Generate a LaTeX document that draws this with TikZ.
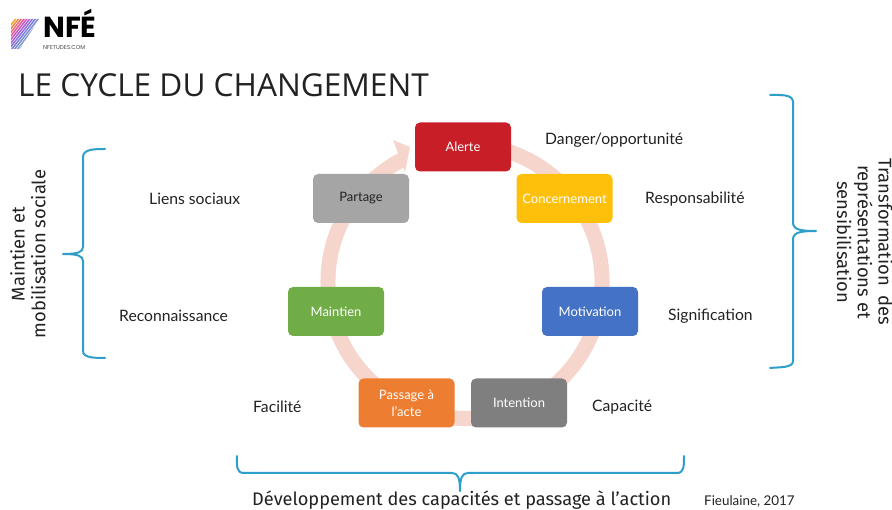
\documentclass[tikz,border=0pt]{standalone}
\usepackage{fontspec}
\setmainfont{Lato}
\newfontfamily\titlefont{Open Sans}
\newfontfamily\dinfont{Fira Sans}
\newfontfamily\logofont{Poppins}
\usetikzlibrary{calc}
\definecolor{ringc}{HTML}{F6D6CC}
\definecolor{bracec}{HTML}{2E9FCB}
\definecolor{cRed}{HTML}{C81E28}
\definecolor{cYel}{HTML}{FFC00C}
\definecolor{cGre}{HTML}{A5A5A5}
\definecolor{cGrn}{HTML}{70AD47}
\definecolor{cBlu}{HTML}{4472C4}
\definecolor{cOra}{HTML}{ED7D31}
\definecolor{cDgr}{HTML}{7F7F7F}
\definecolor{txt}{HTML}{222222}
\tikzset{
  x=1pt,y=-1pt,
  stagebox/.style={draw=none,rounded corners=5pt,minimum width=96pt,minimum height=49pt,inner sep=0pt,align=center,text=white,font=\fontsize{13}{17}\selectfont},
  lab/.style={text=txt,inner sep=0pt,font=\fontsize{15.7}{18}\selectfont},
  sidetxt/.style={text=txt,inner sep=0pt,align=center,font=\dinfont\fontsize{18.4}{20.7}\selectfont},
  bracel/.style={draw=bracec,line width=2pt,line cap=round,line join=round}
}
\begin{document}
\begin{tikzpicture}
\useasboundingbox (0,0) rectangle (892,510);
\fill[white] (0,0) rectangle (892,510);
% logo
\begin{scope}
\clip (11,19) -- (39,19) -- (20,49) -- (11,49) -- cycle;
\foreach \i/\c in {0/F5A623,1/F08A4A,2/EE6C74,3/E0589C,4/C858C0,5/A860D4,6/8C70DC,7/7C80DC,8/7C90D8,9/86A0D0,10/90ACC8,11/98B4C4,12/A0BCC0,13/A8C4C0,14/B0C8C0,15/B8CCC4,16/B8CCC4,17/C0D0C8,18/C0D0C8}{
  \definecolor{tmpc}{HTML}{\c}
  \draw[tmpc,line width=1.5pt] ($(-10,52)+(2.8*\i,0)$) -- ++(28,-36);
}
\end{scope}
\node[inner sep=0pt,anchor=south west,align=left,text=black] (logo) at (43,50) {{\logofont\bfseries\fontsize{29}{29}\selectfont NFÉ}\\{\logofont\fontsize{5.7}{10}\selectfont\color{black!70}NFETUDES.COM}};
% title
\node[inner sep=0pt,anchor=base west,text=txt,font=\titlefont\fontsize{31.6}{36}\selectfont] (title) at (18,97) {LE CYCLE DU CHANGEMENT};
% ring with arrowhead
\coordinate (rc) at (465,281.5);
\draw[ringc,line width=15pt] ($(rc)+(80:137 and -137)$) arc[start angle=-80,end angle=243,radius=137];
\coordinate (headA) at (393,140);
\coordinate (headB) at (410,147);
\coordinate (headC) at (405,172);
\fill[ringc] (headA) -- (headB) -- (headC) -- cycle;
% stages
\node[stagebox,fill=cRed] (alerte) at (463,147) {Alerte};
\node[stagebox,fill=cGre,text=txt] (partage) at (361,198.5) {Partage};
\node[stagebox,fill=cYel] (conc) at (564.5,198.5) {Concernement};
\node[stagebox,fill=cGrn] (maintien) at (336,311.5) {Maintien};
\node[stagebox,fill=cBlu] (motiv) at (590,311.5) {Motivation};
\node[stagebox,fill=cOra] (passage) at (406.5,403) {Passage à\\l’acte};
\node[stagebox,fill=cDgr] (intent) at (519,403) {Intention};
% labels
\node[lab,anchor=west] (danger) at (545,140) {Danger/opportunité};
\node[lab,anchor=west] (resp) at (645,199) {Responsabilité};
\node[lab,anchor=west] (signif) at (668,316) {Signification};
\node[lab,anchor=west] (capa) at (592,407) {Capacité};
\node[lab,anchor=west] (facil) at (253,407) {Facilité};
\node[lab,anchor=west] (reco) at (119,316) {Reconnaissance};
\node[lab,anchor=west] (liens) at (149,199) {Liens sociaux};
% side texts
\node[sidetxt,rotate=90] (left) at (28,254) {Maintien et\\mobilisation sociale};
\node[sidetxt,rotate=-90] (right) at (865,242) {Transformation\ \ des\\représentations et\\sensibilisation};
\node[inner sep=0pt,anchor=base west,text=txt,font=\dinfont\fontsize{18.2}{20}\selectfont] (bottom) at (252,505) {Développement des capacités et passage à l’action};
\node[inner sep=0pt,anchor=base west,text=txt,font=\fontsize{13.4}{14}\selectfont] (source) at (704,506) {Fieulaine, 2017};
% braces
\coordinate (rbT) at (770,95);
\coordinate (rbM) at (816,231);
\coordinate (rbB) at (770,368);
\draw[bracel] (rbT) .. controls (780,95) and (793,94) .. (793,102) -- (793,222) .. controls (793,229) and (798,231) .. (rbM) .. controls (798,231) and (793,233) .. (793,240) -- (793,361) .. controls (793,368) and (780,367) .. (rbB);
\coordinate (lbT) at (105,149);
\coordinate (lbM) at (63,254);
\coordinate (lbB) at (105,358);
\draw[bracel] (lbT) .. controls (95,149) and (83,149) .. (83,157) -- (83,247) .. controls (83,252) and (78,254) .. (lbM) .. controls (78,254) and (83,256) .. (83,261) -- (83,351) .. controls (83,358) and (95,358) .. (lbB);
\coordinate (bbL) at (237,456);
\coordinate (bbM) at (460,491);
\coordinate (bbR) at (684,456);
\draw[bracel] (bbL) .. controls (237,466) and (236,473) .. (244,473) -- (452,473) .. controls (458,473) and (460,478) .. (bbM) .. controls (460,478) and (462,473) .. (468,473) -- (677,473) .. controls (684,473) and (684,466) .. (bbR);
\end{tikzpicture}
\end{document}
